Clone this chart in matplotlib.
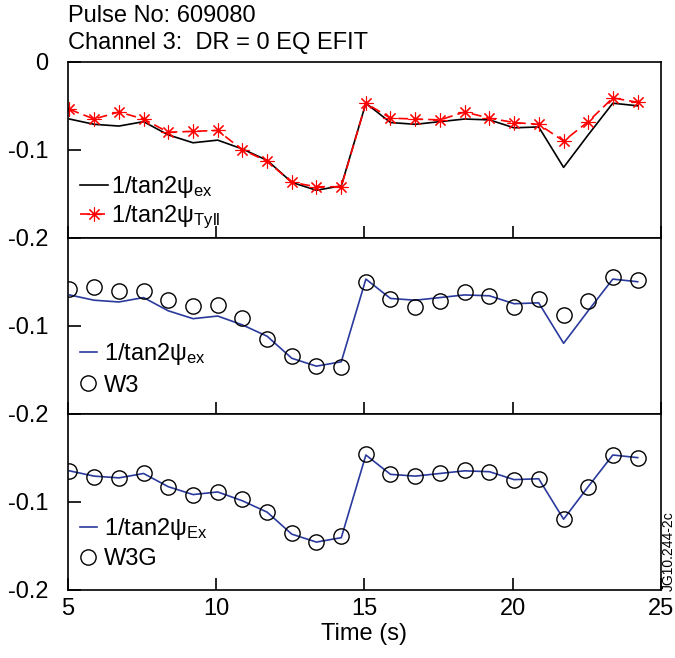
import numpy as np
import matplotlib
matplotlib.use('Agg')
import matplotlib.pyplot as plt

plt.rcParams['font.family'] = ['Liberation Sans', 'DejaVu Sans']
plt.rcParams['mathtext.fontset'] = 'custom'
plt.rcParams['mathtext.rm'] = 'Liberation Sans'
plt.rcParams['mathtext.it'] = 'Liberation Sans:italic'
plt.rcParams['axes.unicode_minus'] = False

# time points (s)
time = [5.05, 5.88, 6.72, 7.55, 8.38, 9.22, 10.05, 10.88, 11.72, 12.55, 13.38, 14.22,
        15.05, 15.88, 16.72, 17.55, 18.38, 19.22, 20.05, 20.88, 21.72, 22.55, 23.38, 24.22]

# 1/tan2psi from experiment
inv_tan_ex = [-0.065, -0.071, -0.073, -0.068, -0.083, -0.092, -0.089, -0.099, -0.112, -0.137, -0.146, -0.141,
              -0.047, -0.069, -0.071, -0.068, -0.065, -0.066, -0.075, -0.074, -0.120, -0.083, -0.047, -0.050]

# 1/tan2psi from Tyll
inv_tan_tyll = [-0.054, -0.065, -0.057, -0.065, -0.080, -0.079, -0.078, -0.100, -0.113, -0.137, -0.142, -0.142,
                -0.047, -0.064, -0.065, -0.066, -0.057, -0.064, -0.069, -0.071, -0.090, -0.068, -0.041, -0.046]

# W3 code
w3 = [-0.058, -0.056, -0.061, -0.061, -0.071, -0.078, -0.076, -0.091, -0.115, -0.134, -0.146, -0.147,
      -0.050, -0.070, -0.079, -0.072, -0.062, -0.066, -0.079, -0.070, -0.088, -0.072, -0.045, -0.048]

# W3G code
w3g = [-0.065, -0.072, -0.073, -0.068, -0.083, -0.093, -0.089, -0.097, -0.112, -0.136, -0.146, -0.139,
       -0.046, -0.069, -0.071, -0.068, -0.064, -0.066, -0.075, -0.074, -0.120, -0.083, -0.047, -0.050]

blue = '#2a3a9c'
fs = 17

fig = plt.figure(figsize=(6.75, 6.58), dpi=100)
axes = fig.subplots(3, 1, sharex=True, gridspec_kw=dict(hspace=0))
fig.subplots_adjust(left=0.1007, right=0.979, top=0.906, bottom=0.104)

ax = axes[0]
ax.plot(time, inv_tan_ex, color='black', lw=1.2, label='1/tan2ψ$_{\\mathrm{ex}}$')
ax.plot(time, inv_tan_tyll, color='red', lw=1.2, ls=(0, (6, 3)), marker=(8, 2, 0), ms=10,
        mew=0.8, label='1/tan2ψ$_{\\mathrm{Tyll}}$')

ax = axes[1]
ax.plot(time, inv_tan_ex, color=blue, lw=1.2, label='1/tan2ψ$_{\\mathrm{ex}}$')
ax.plot(time, w3, ls='none', marker='o', ms=11, mfc='none', mec='black', mew=1.0, label='W3')

ax = axes[2]
ax.plot(time, inv_tan_ex, color=blue, lw=1.2, label='1/tan2ψ$_{\\mathrm{Ex}}$')
ax.plot(time, w3g, ls='none', marker='o', ms=11, mfc='none', mec='black', mew=1.0, label='W3G')

leg_y = [-0.03, 0.03, 0.045]
leg_len = [1.2, 0.72, 0.72]
leg_pad = [0.13, 0.3, 0.3]
leg_space = [0.15, 0.3, 0.25]

for i, ax in enumerate(axes):
    ax.set_xlim(5, 25)
    ax.set_ylim(-0.2, 0)
    ax.set_yticks([-0.2, -0.1, 0])
    if i == 0:
        ax.set_yticklabels(['-0.2', '-0.1', '0'])
    else:
        ax.set_yticklabels(['-0.2', '-0.1', ''])
    ax.set_xticks([5, 10, 15, 20, 25])
    ax.tick_params(direction='in', length=9, width=1.2, labelsize=fs, pad=6)
    ax.tick_params(axis='y', pad=14)
    for s in ax.spines.values():
        s.set_linewidth(1.2)
    ax.legend(loc='lower left', bbox_to_anchor=(0.0, leg_y[i]), frameon=False, fontsize=fs,
              handlelength=leg_len[i], handletextpad=leg_pad[i], labelspacing=leg_space[i],
              borderaxespad=0, borderpad=0.5)

axes[2].set_xlabel('Time (s)', fontsize=fs, labelpad=2)

fig.text(0.1007, 0.975, 'Pulse No: 609080', fontsize=fs, va='center', ha='left')
fig.text(0.1007, 0.935, 'Channel 3:  DR = 0 EQ EFIT', fontsize=fs, va='center', ha='left')
fig.text(0.991, 0.163, 'JG10.244-2c', fontsize=10, rotation=90, va='center', ha='center')

fig.savefig('out.png', dpi=100)
